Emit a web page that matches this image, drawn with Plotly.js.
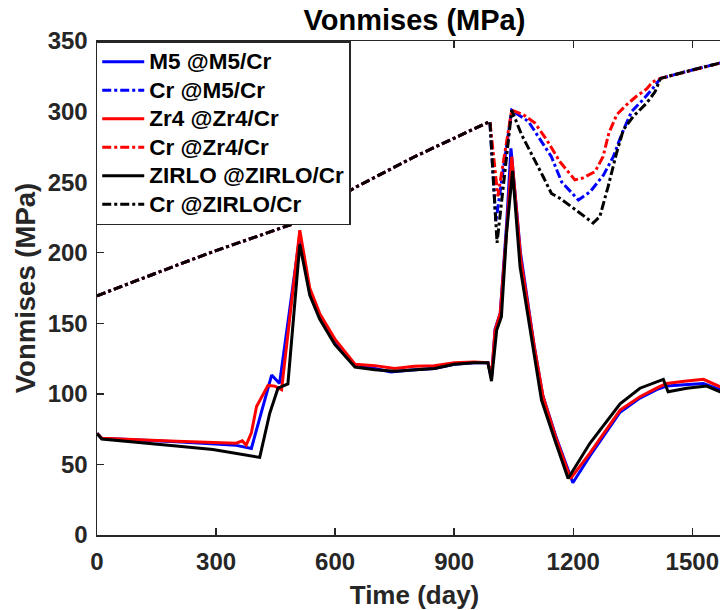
<!DOCTYPE html>
<html>
<head>
<meta charset="utf-8">
<script src="https://cdn.plot.ly/plotly-3.0.1.min.js"></script>
<style>
html,body{margin:0;padding:0;overflow:hidden;background:#fff;}
#chart{width:760px;height:610px;}
</style>
</head>
<body>
<div id="chart"></div>
<script>
// ---- data (Time in days, Von Mises stress in MPa) ----
const m5Days   = [0,12,200,351,389,414,440,460,511,536,561,599,650,700,740,800,850,900,950,985,994,1003,1016,1032,1043,1067,1101,1123,1156,1199,1242,1318,1368,1410,1435,1480,1528,1570,1600];
const m5Vals   = [72,68.5,66,63.5,61.3,86,113.3,107.4,212,172,155,137,120,118,115.5,117,118,121,122,122,111,146,157,220,274,200,135,99,70,37,56,87,97,103,105.5,106.5,107.4,103,100];

const crM5Days = [0,100,200,300,400,500,520,656,800,900,990,1005,1045,1087,1112,1145,1171,1213,1242,1276,1301,1322,1347,1376,1402,1420,1500,1600];
const crM5Vals = [169.5,180.5,191,201.5,211,221,225,247,268,281,293,222,301,293,282,268,250,237.4,243,255,268,284,300,308.5,317,323.5,329.5,336.5];

const zr4Days  = [0,12,200,351,366,376,389,402,431,448,465,511,536,561,599,650,700,750,800,850,900,950,985,994,1003,1016,1032,1045,1068,1102,1124,1155,1193,1242,1318,1368,1410,1435,1480,1528,1570,1600];
const zr4Vals  = [72,68.5,66.5,65,66.7,63.7,72.4,91,106,105.5,103,216,175,157,139,121,120,118,119.5,120,122,122.5,122,112,145,157,215,268,195,133,98,70,40,58,88.5,98,104,107.4,109,110.3,105,103];

const crZr4Days = [0,100,200,300,400,500,520,656,800,900,990,1010,1045,1073,1103,1133,1166,1204,1225,1255,1275,1290,1310,1335,1360,1385,1400,1420,1500,1600];
const crZr4Vals = [169.5,180.5,191,201.5,211,221,225,247,268,281,293,240,301,298,292,280,264.6,251.6,253,257.5,268,285,298,305,311,316,321,323.5,329.5,336.5];

const zirloDays = [0,12,200,292,410,435,456,481,511,536,561,599,650,700,750,800,850,900,950,985,994,1007,1019,1032,1047,1066,1099,1120,1154,1187,1242,1318,1368,1427,1439,1486,1536,1570,1600];
const zirloVals = [72,68,63,60.6,55,86,104,107,206,170,153,135,119,117,116,117,118,121,122,122,109,145,154.7,214,258,190,131,95.6,67,40,65,93,104,110.3,101.5,104,105.5,101.5,99];

const crZirloDays = [0,100,200,300,400,500,520,656,800,900,990,1008,1045,1070,1099,1124,1145,1166,1208,1250,1267,1288,1309,1326,1351,1385,1406,1420,1500,1600];
const crZirloVals = [169.5,180.5,191,201.5,211,221,225,247,268,281,293,207,301,283.5,268,254,242,238.6,230,221,225.6,247,270.5,287,296.5,306,314,323.5,329.5,336.5];

const seriesNames = ["M5 @M5/Cr","Cr @M5/Cr","Zr4 @Zr4/Cr","Cr @Zr4/Cr","ZIRLO @ZIRLO/Cr","Cr @ZIRLO/Cr"];
const xTicks = [0,300,600,900,1200,1500];

// ---- traces ----
const FONT = "Liberation Sans, Arial, sans-serif";
function tr(x, y, name, color, dash){
  return {x:x, y:y, name:'<span style="font-size:22.5px">' + name + '</span>',
          type:"scatter", mode:"lines",
          line:{color:color, width:3, dash:dash}};
}
const traces = [
  tr(m5Days, m5Vals, seriesNames[0], "#0000FF", "solid"),
  tr(crM5Days, crM5Vals, seriesNames[1], "#0000FF", "dashdot"),
  tr(zr4Days, zr4Vals, seriesNames[2], "#FF0000", "solid"),
  tr(crZr4Days, crZr4Vals, seriesNames[3], "#FF0000", "dashdot"),
  tr(zirloDays, zirloVals, seriesNames[4], "#000000", "solid"),
  tr(crZirloDays, crZirloVals, seriesNames[5], "#000000", "dashdot")
];

const axisCommon = {
  showline:true, linecolor:"#262626", linewidth:1.5, mirror:"ticks",
  ticks:"inside", ticklen:7, tickwidth:1.5, tickcolor:"#262626",
  showgrid:false, zeroline:false,
  tickfont:{family:FONT, size:24, color:"#262626", weight:"bold"}
};

const layout = {
  width:760, height:610,
  margin:{l:97, r:28, t:41, b:75},
  paper_bgcolor:"#fff", plot_bgcolor:"#fff",
  title:{text:"Vonmises (MPa)", x:0.5, xref:"paper", y:0.967, yref:"container", yanchor:"middle",
         font:{family:FONT, size:29, color:"#000", weight:"bold"}},
  xaxis:Object.assign({}, axisCommon, {
    range:[0,1600], tickvals:xTicks, ticklabelstandoff:5,
    title:{text:"Time (day)", standoff:12, font:{family:FONT, size:26, color:"#262626", weight:"bold"}}
  }),
  yaxis:Object.assign({}, axisCommon, {
    range:[0,350], dtick:50, ticklabelstandoff:3,
    title:{text:"Vonmises (MPa)", standoff:4, font:{family:FONT, size:27.5, color:"#262626", weight:"bold"}}
  }),
  legend:{x:-0.002, y:1, xanchor:"left", yanchor:"top", bgcolor:"#fff",
          bordercolor:"#262626", borderwidth:1.5, itemwidth:42,
          font:{family:FONT, size:19.6, color:"#000", weight:"bold"}},
  showlegend:true
};

Plotly.newPlot("chart", traces, layout, {displayModeBar:false, staticPlot:true});
</script>
</body>
</html>
